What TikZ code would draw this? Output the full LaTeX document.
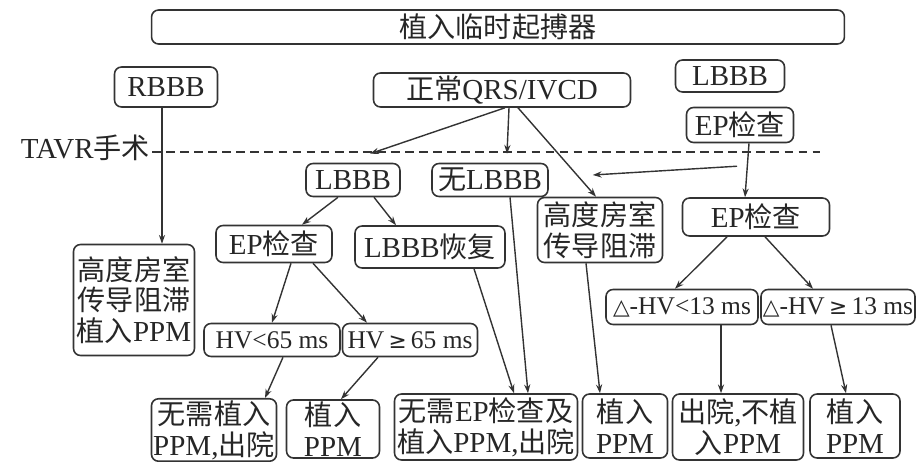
\documentclass[tikz,border=0pt]{standalone}
\usepackage{fontspec}
\setmainfont{Liberation Serif}
\newfontfamily\cjk{Noto Sans CJK SC}[Scale=0.97]
\newfontfamily\symb{DejaVu Sans}[Scale=0.85]
\newcommand\zh[1]{{\cjk #1}}
\usepackage{tikz}
\usetikzlibrary{positioning, arrows.meta, calc}

\begin{document}
\begin{tikzpicture}[x=0.02cm, y=-0.02cm, >={Stealth[length=5pt, width=3.5pt]},
   font=\fontsize{16.5}{17.5}\selectfont,
   box/.style 2 args={draw=black!80, line width=0.9pt, rounded corners=4pt, align=center,
      inner sep=1pt, text=black!85, minimum width=#1cm, minimum height=#2cm},
   small/.style={font=\fontsize{14.5}{16}\selectfont},
   every edge/.style={draw=black!80, line width=0.8pt}]
   \useasboundingbox (0,0) rectangle (918,462);

   \node[box={13.86}{0.68}] (pace) at (498,27) {\zh{植入临时起搏器}};
   \node[box={2.06}{0.8}] (rbbb) at (166,87) {RBBB};
   \node[box={5.14}{0.68}] (qrs) at (502,90) {\zh{正常}QRS/IVCD};
   \node[box={2.18}{0.64}] (lbbbR) at (730,76) {LBBB};
   \node[box={2.14}{0.7}] (epR1) at (740,125) {EP\zh{检查}};

   \node[anchor=east, inner sep=1pt, text=black!85] (tavr) at (152,148) {TAVR\zh{手术}};
   \coordinate (lineEnd) at (820,152);
   \draw[black!80, line width=1pt, dash pattern=on 5pt off 3pt] (tavr.east |- lineEnd) -- (lineEnd);

   \node[box={1.88}{0.66}] (lbbbM) at (353,180) {LBBB};
   \node[box={2.32}{0.66}] (nolbbb) at (490,180) {\zh{无}LBBB};
   \node[box={2.5}{1.3}] (avbM) at (600,230) {\zh{高度房室}\\\zh{传导阻滞}};
   \node[box={2.94}{0.76}] (epR2) at (756,217) {EP\zh{检查}};
   \node[box={2.32}{0.74}] (epL) at (274,244) {EP\zh{检查}};
   \node[box={3.0}{0.84}] (lbbbrec) at (430,247) {LBBB\zh{恢复}};
   \node[box={2.42}{2.22}] (avbL) at (134,300) {\zh{高度房室}\\\zh{传导阻滞}\\\zh{植入}PPM};

   \node[box={2.72}{0.66}, small] (hvlt) at (272,340) {HV<65 ms};
   \node[box={2.7}{0.66}, small] (hvge) at (410,340) {HV\,{\symb ≥}\,65 ms};
   \node[box={3.04}{0.7}, small] (dlt) at (682,307) {{\symb △}-HV<13 ms};
   \node[box={3.08}{0.7}, small] (dge) at (838,307) {{\symb △}-HV\,{\symb ≥}\,13 ms};

   \node[box={2.5}{1.2}] (out1) at (214,430) {\zh{无需植入}\\PPM,\zh{出院}};
   \node[box={1.86}{1.16}] (ppm1) at (333,429) {\zh{植入}\\PPM};
   \node[box={3.66}{1.32}] (out2) at (486,427) {\zh{无需}EP\zh{检查及}\\\zh{植入}PPM,\zh{出院}};
   \node[box={1.7}{1.28}] (ppm2) at (625,426) {\zh{植入}\\PPM};
   \node[box={2.62}{1.32}] (out3) at (738,427) {\zh{出院},\zh{不植}\\\zh{入}PPM};
   \node[box={1.8}{1.28}] (ppm3) at (855,426) {\zh{植入}\\PPM};

   \path[->]
   ($(rbbb.south)+(-4,0)$) edge ($(avbL.north)+(28,0)$)
   ($(qrs.south)+(3,0)$) edge ($(lbbbM.north)+(17,-9)$)
   ($(qrs.south)+(7,0)$) edge ($(nolbbb.north)+(17,-9)$)
   ($(qrs.south)+(16,0)$) edge ($(avbM.north)+(-4,0)$)
   ($(epR1.south)+(9,0)$) edge ($(epR2.north)+(-11,0)$)
   ($(epR2.north)+(-19,-31)$) edge ($(nolbbb.east)+(44,-5)$)
   ($(lbbbM.south)+(-15,0)$) edge ($(epL.north)+(28,0)$)
   ($(lbbbM.south)+(21,0)$) edge ($(lbbbrec.north)+(-34,0)$)
   ($(epL.south)+(17,0)$) edge ($(hvlt.north)+(0,0)$)
   ($(epL.south)+(39,0)$) edge ($(hvge.north)+(-43,0)$)
   ($(hvlt.south)+(11,0)$) edge ($(out1.north)+(51,0)$)
   ($(hvge.south)+(-32,0)$) edge ($(ppm1.north)+(8,0)$)
   ($(lbbbrec.south)+(44,0)$) edge ($(out2.north)+(28,0)$)
   ($(nolbbb.south)+(20,0)$) edge ($(out2.north)+(42,0)$)
   ($(avbM.south)+(-14,0)$) edge ($(ppm2.north)+(-25,0)$)
   ($(epR2.south)+(-29,0)$) edge ($(dlt.north)+(-7,0)$)
   ($(epR2.south)+(9,0)$) edge ($(dge.north)+(-25,0)$)
   ($(dlt.south)+(39,0)$) edge ($(out3.north)+(-17,0)$)
   ($(dge.south)+(-7,0)$) edge ($(ppm3.north)+(-9,0)$)
   ;
\end{tikzpicture}
\end{document}
